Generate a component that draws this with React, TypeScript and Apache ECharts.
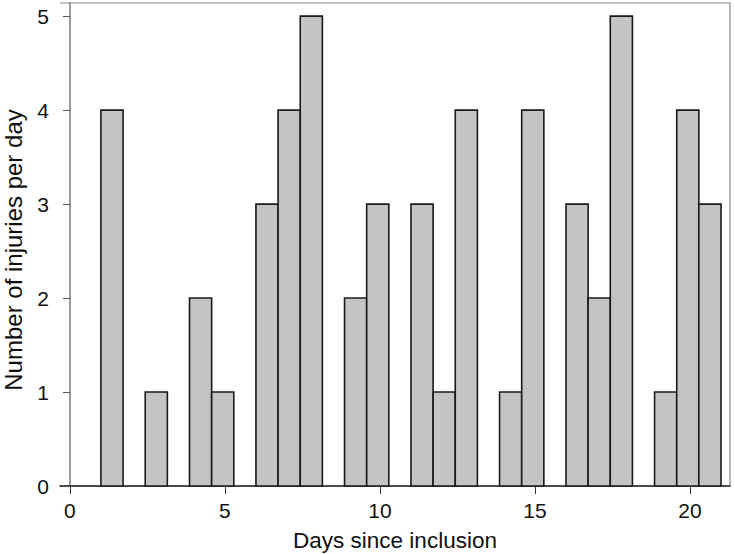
import React, { useEffect, useRef } from "react";
import * as echarts from "echarts";

// Histogram: 28 bins spanning days 1 to 21
const binStart = 1;
const binEnd = 21;
const counts = [4, 0, 1, 0, 2, 1, 0, 3, 4, 5, 0, 2, 3, 0, 3, 1, 4, 0, 1, 4, 0, 3, 2, 5, 0, 1, 4, 3];
const xTicks = [0, 5, 10, 15, 20];
const yTicks = [0, 1, 2, 3, 4, 5];
const xTitle = "Days since inclusion";
const yTitle = "Number of injuries per day";

export default function App() {
  const ref = useRef<HTMLDivElement>(null);
  useEffect(() => {
    if (!ref.current) return;
    const chart = echarts.init(ref.current, null, { renderer: "svg" });
    const w = (binEnd - binStart) / counts.length;
    const data = counts.map((c, i) => [binStart + i * w, binStart + (i + 1) * w, c]);
    const font = "Liberation Sans, Arial, sans-serif";
    chart.setOption({
      animation: false,
      backgroundColor: "#ffffff",
      grid: { left: 60, top: 3, right: 5, bottom: 68, outerBoundsMode: "none", containLabel: false },
      xAxis: {
        type: "value",
        min: -0.32,
        max: 21.29,
        interval: 5,
        name: xTitle,
        nameLocation: "middle",
        nameGap: 43,
        nameTextStyle: { fontSize: 22.5, color: "#111", fontFamily: font },
        axisLine: { show: true, onZero: false, lineStyle: { color: "#111", width: 1.5 } },
        axisTick: { show: true, length: 8, lineStyle: { color: "#333" }, customValues: xTicks },
        axisLabel: { fontSize: 21, color: "#111", margin: 14, fontFamily: font, customValues: xTicks, showMinLabel: true, showMaxLabel: true },
        splitLine: { show: false },
      },
      yAxis: {
        type: "value",
        min: 0,
        max: 5.14,
        name: yTitle,
        nameLocation: "middle",
        nameGap: 35,
        nameTextStyle: { fontSize: 24, color: "#111", fontFamily: font, padding: [0, 11, 0, 0] },
        axisLine: { show: true, lineStyle: { color: "#777", width: 1.5 } },
        axisTick: { show: true, length: 7, lineStyle: { color: "#555" }, customValues: yTicks },
        axisLabel: { fontSize: 21, color: "#111", margin: 11, fontFamily: font, customValues: yTicks },
        splitLine: { show: false },
      },
      series: [
        {
          type: "custom",
          data,
          renderItem: (params: any, api: any) => {
            const x0 = api.coord([api.value(0), 0]);
            const x1 = api.coord([api.value(1), api.value(2)]);
            if (api.value(2) === 0) return null;
            return {
              type: "rect",
              shape: { x: x0[0], y: x1[1], width: x1[0] - x0[0], height: x0[1] - x1[1] },
              style: { fill: "#c4c4c4", stroke: "#1a1a1a", lineWidth: 1.6 },
            };
          },
          encode: { x: [0, 1], y: 2 },
        },
      ],
      graphic: [
        {
          type: "polyline",
          shape: { points: [[60, 3], [730, 3], [730, 486]] },
          style: { stroke: "#888", lineWidth: 1.2, fill: null },
          silent: true,
        },
      ],
    });
    return () => chart.dispose();
  }, []);
  return <div ref={ref} style={{ position: "absolute", left: 0, top: 0, width: 735, height: 554 }} />;
}
